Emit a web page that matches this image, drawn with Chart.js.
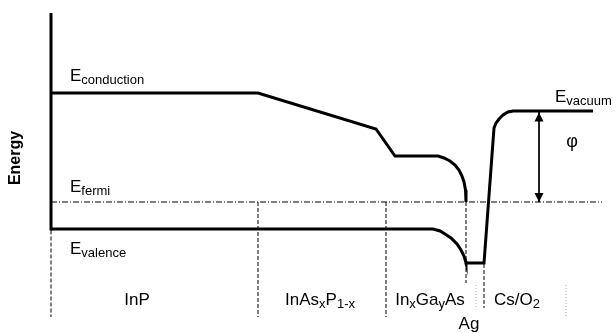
<!DOCTYPE html>
<html>
<head>
<meta charset="utf-8">
<script src="https://cdn.jsdelivr.net/npm/chart.js@4/dist/chart.umd.min.js"></script>
<style>
  html, body { margin: 0; padding: 0; background: #fff; }
  #wrap { width: 616px; height: 333px; position: relative; }
</style>
</head>
<body>
<div id="wrap"><canvas id="band"></canvas></div>
<script>
// Band diagram of an InP / InAsP / InGaAs / Ag / Cs-O2 photocathode.
// Position along the structure (arbitrary units), energy relative to the Fermi level (arbitrary units).

// Conduction band edge
const conductionX = [0, 207, 325, 344, 387, 393, 399, 404, 408, 411, 413, 414.5, 415, 415];
const conductionE = [1.09, 1.09, 0.73, 0.46, 0.46, 0.44, 0.41, 0.37, 0.32, 0.26, 0.20, 0.12, 0.05, 0.00];

// Valence band edge, through the Ag layer and up to the vacuum level
const valenceX = [0, 382, 389, 394, 400, 406, 410, 413, 414.5, 415, 433, 443, 445, 448, 452, 457, 462, 542];
const valenceE = [-0.27, -0.27, -0.29, -0.32, -0.36, -0.42, -0.48, -0.54, -0.59, -0.61, -0.61, 0.74, 0.79, 0.83, 0.87, 0.90, 0.91, 0.91];

// Fermi level and vacuum level
const fermiE = 0;
const fermiX = [0, 551];
const vacuumE = 0.91;

// Energy axis extent
const axisE = [1.89, -0.285];

// Layer boundaries (dashed) and their vertical extent
const boundaryX   = [0, 207, 335, 415, 433];
const boundaryTop = [-0.285, 0, 0, 0, -0.62];
const boundaryBot = [-1.15, -1.15, -1.15, -0.81, -1.06];

// Faint guide lines
const guideX   = [425, 515];
const guideTop = [-0.83, -0.83];
const guideBot = [-1.06, -1.16];

// Work function arrow position
const phiX = 488;

// Text
const levelNames  = ['E_{conduction}', 'E_{fermi}', 'E_{valence}', 'E_{vacuum}'];
const layerNames  = ['InP', 'InAs_{x}P_{1-x}', 'In_{x}Ga_{y}As', 'Cs/O_{2}', 'Ag'];
const phiLabel = 'φ';
const axisTitle = 'Energy';

// Label anchors in data units
const levelAnchors = [[19, 1.21], [19, 0.10], [19, -0.52], [504, 1.00]];
const layerAnchors = [[86, -1.03], [269, -1.03], [379, -1.03], [466, -1.03], [418, -1.27]];
const phiAnchor = [521, 0.60];
const titleAnchor = [-35, 0.44];

const FONT = "'Liberation Sans', Arial, Helvetica, sans-serif";
const MAIN = 17, SUB = 13;

const pts = (xs, ys) => xs.map((x, i) => ({ x, y: ys[i] }));

function lineSet(data, width, dash, color) {
  return {
    data, showLine: true, borderColor: color || '#000', borderWidth: width,
    borderDash: dash || [], pointRadius: 0, fill: false, tension: 0,
    borderCapStyle: 'butt', borderJoinStyle: 'miter', clip: false
  };
}

const datasets = [];
// dashed layer boundaries
boundaryX.forEach((bx, i) => datasets.push(
  lineSet([{ x: bx, y: boundaryTop[i] }, { x: bx, y: boundaryBot[i] }], 1, [4, 2], '#000')));
// faint guides
guideX.forEach((gx, i) => datasets.push(
  lineSet([{ x: gx, y: guideTop[i] }, { x: gx, y: guideBot[i] }], 1, [1, 2], '#aaa')));
// Fermi level
datasets.push(lineSet(fermiX.map(x => ({ x, y: fermiE })), 1, [6, 2, 1, 2], '#000'));
// energy axis
datasets.push(lineSet([{ x: 0, y: axisE[0] }, { x: 0, y: axisE[1] }], 3));
// bands
datasets.push(lineSet(pts(conductionX, conductionE), 3));
datasets.push(lineSet(pts(valenceX, valenceE), 3));
// work function arrow shaft
datasets.push(lineSet([{ x: phiX, y: vacuumE }, { x: phiX, y: fermiE }], 1, [], '#000'));

// Split "A_{b}C" into normal / subscript runs
function parseRich(s) {
  const out = [];
  const re = /_\{([^}]*)\}/g;
  let last = 0, m;
  while ((m = re.exec(s))) {
    if (m.index > last) out.push({ t: s.slice(last, m.index), sub: false });
    out.push({ t: m[1], sub: true });
    last = re.lastIndex;
  }
  if (last < s.length) out.push({ t: s.slice(last), sub: false });
  return out;
}

function drawRich(ctx, s, px, py, align) {
  const runs = parseRich(s);
  let total = 0;
  runs.forEach(r => {
    ctx.font = (r.sub ? SUB : MAIN) + 'px ' + FONT;
    r.w = ctx.measureText(r.t).width;
    total += r.w;
  });
  let cx = align === 'center' ? px - total / 2 : px;
  ctx.textAlign = 'left';
  ctx.textBaseline = 'alphabetic';
  runs.forEach(r => {
    ctx.font = (r.sub ? SUB : MAIN) + 'px ' + FONT;
    ctx.fillText(r.t, cx, py + (r.sub ? 3 : 0));
    cx += r.w;
  });
}

const annotations = {
  id: 'bandAnnotations',
  afterDatasetsDraw(chart) {
    const { ctx, scales: { x, y } } = chart;
    ctx.save();
    ctx.fillStyle = '#000';

    // arrow heads of the work function
    const ax = x.getPixelForValue(phiX);
    const yTop = y.getPixelForValue(vacuumE) + 1.5;
    const yBot = y.getPixelForValue(fermiE);
    ctx.beginPath();
    ctx.moveTo(ax, yTop); ctx.lineTo(ax - 4.5, yTop + 9); ctx.lineTo(ax + 4.5, yTop + 9); ctx.closePath();
    ctx.fill();
    ctx.beginPath();
    ctx.moveTo(ax, yBot); ctx.lineTo(ax - 4.5, yBot - 9); ctx.lineTo(ax + 4.5, yBot - 9); ctx.closePath();
    ctx.fill();

    levelNames.forEach((s, i) => drawRich(ctx, s,
      x.getPixelForValue(levelAnchors[i][0]), y.getPixelForValue(levelAnchors[i][1]), 'left'));
    layerNames.forEach((s, i) => drawRich(ctx, s,
      x.getPixelForValue(layerAnchors[i][0]), y.getPixelForValue(layerAnchors[i][1]), 'center'));

    ctx.font = '18px ' + FONT;
    ctx.textAlign = 'center';
    ctx.textBaseline = 'middle';
    ctx.fillText(phiLabel, x.getPixelForValue(phiAnchor[0]), y.getPixelForValue(phiAnchor[1]));

    ctx.translate(x.getPixelForValue(titleAnchor[0]), y.getPixelForValue(titleAnchor[1]));
    ctx.rotate(-Math.PI / 2);
    ctx.font = 'bold 16px ' + FONT;
    ctx.fillText(axisTitle, 0, 0);
    ctx.restore();
  }
};

new Chart(document.getElementById('band'), {
  type: 'scatter',
  data: { datasets },
  options: {
    responsive: true,
    maintainAspectRatio: false,
    animation: false,
    devicePixelRatio: 1,
    layout: { padding: 0 },
    plugins: { legend: { display: false }, tooltip: { enabled: false } },
    scales: {
      x: { type: 'linear', display: false, min: -51, max: 565 },
      y: { type: 'linear', display: false, min: -1.31, max: 2.02 }
    }
  },
  plugins: [annotations]
});
</script>
</body>
</html>
